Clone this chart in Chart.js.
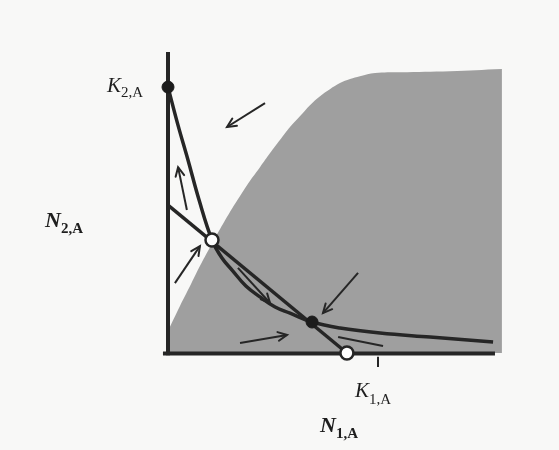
<!DOCTYPE html>
<html>
<head>
<meta charset="utf-8">
<script src="https://cdn.jsdelivr.net/npm/chart.js@4.4.1/dist/chart.umd.min.js"></script>
<style>
  html, body { margin: 0; padding: 0; background: #f8f8f7; }
  #wrap { width: 559px; height: 450px; }
</style>
</head>
<body>
<div id="wrap"><canvas id="phase"></canvas></div>
<script>
// carrying capacities (axis units)
const K1 = 100;
const K2 = 100;

// edge of the shaded region (N1 -> N2)
const shadeN1 = [0, 5.7, 10.5, 15.2, 20.0, 24.8, 29.5, 34.3, 39.0, 43.8, 48.6, 53.3, 58.1, 62.9,
                 67.6, 72.4, 77.1, 81.9, 86.7, 91.4, 98.6, 110.5, 134.3, 159.0];
const shadeN2 = [8.3, 17.7, 25.2, 32.7, 39.8, 46.6, 53.0, 59.0, 64.7, 69.9, 75.2, 80.1, 85.0, 89.1,
                 93.2, 96.6, 99.2, 101.5, 103.0, 104.1, 105.3, 105.6, 106.0, 106.8];

// curved isocline, starting at K2
const curveN1 = [0, 4.76, 9.52, 14.8, 20.95, 25.7, 30.5, 37.1, 43.8, 51.0, 58.1, 68.6, 81.9, 101, 124.8, 154.8];
const curveN2 = [100, 85.7, 72.6, 57.5, 42.5, 35.7, 31.2, 25.2, 21.1, 17.3, 15.0, 11.65, 9.4, 7.5, 6.0, 4.1];

// straight isocline
const lineN1 = [0, 85.2];
const lineN2 = [55.6, 0];

// equilibria
const stableN1 = [0, 68.6];
const stableN2 = [100, 11.65];
const unstableN1 = [20.95, 85.2];
const unstableN2 = [42.5, 0];

// trajectory arrows: [fromN1, fromN2, toN1, toN2]
const arrows = [
  [46.2, 94.0, 28.1, 85.0],
  [9.0, 53.8, 4.8, 69.9],
  [3.3, 26.3, 15.2, 40.2],
  [33.3, 32.0, 48.6, 18.8],
  [90.5, 30.1, 73.8, 15.0],
  [34.3, 3.8, 56.7, 6.8]
];
const plainStrokes = [
  [102.4, 2.6, 81.0, 6.0]
];

const ink = '#262626';

function pairs(xs, ys) {
  return xs.map((x, i) => ({ x: x, y: ys[i] }));
}

const datasets = [];

datasets.push({
  data: pairs(shadeN1, shadeN2),
  showLine: true,
  fill: 'origin',
  backgroundColor: '#9f9f9f',
  borderWidth: 0,
  pointRadius: 0,
  tension: 0.4,
  clip: false,
  order: 20
});

// axes
datasets.push({
  data: [{ x: 0, y: -0.8 }, { x: 0, y: 113.2 }],
  showLine: true, borderColor: ink, borderWidth: 4, pointRadius: 0, clip: false, order: 10
});
datasets.push({
  data: [{ x: -2.4, y: -0.2 }, { x: 155.7, y: -0.2 }],
  showLine: true, borderColor: ink, borderWidth: 4, pointRadius: 0, clip: false, order: 10
});
// tick at K1
datasets.push({
  data: [{ x: K1, y: -1.4 }, { x: K1, y: -5.3 }],
  showLine: true, borderColor: ink, borderWidth: 2, pointRadius: 0, clip: false, order: 10
});

datasets.push({
  data: pairs(lineN1, lineN2),
  showLine: true, borderColor: ink, borderWidth: 3.5, pointRadius: 0, clip: false, order: 8
});
datasets.push({
  data: pairs(curveN1, curveN2),
  showLine: true, borderColor: ink, borderWidth: 3.5, pointRadius: 0,
  tension: 0.4, clip: false, order: 8
});

arrows.forEach(a => {
  datasets.push({
    data: [{ x: a[0], y: a[1] }, { x: a[2], y: a[3] }],
    showLine: true, borderColor: ink, borderWidth: 2, pointRadius: 0, clip: false, order: 6,
    arrowHead: true
  });
});
plainStrokes.forEach(a => {
  datasets.push({
    data: [{ x: a[0], y: a[1] }, { x: a[2], y: a[3] }],
    showLine: true, borderColor: ink, borderWidth: 2, pointRadius: 0, clip: false, order: 6
  });
});

datasets.push({
  data: pairs(stableN1, stableN2),
  showLine: false, pointRadius: 6, pointBackgroundColor: '#1c1c1c', pointBorderColor: '#1c1c1c',
  pointBorderWidth: 1, clip: false, order: 2
});
datasets.push({
  data: pairs(unstableN1, unstableN2),
  showLine: false, pointRadius: 6.5, pointBackgroundColor: '#ffffff', pointBorderColor: ink,
  pointBorderWidth: 2.5, clip: false, order: 2
});

// V-shaped heads at the end of each arrow dataset
const arrowHeads = {
  id: 'arrowHeads',
  afterDatasetsDraw(chart) {
    const ctx = chart.ctx;
    chart.data.datasets.forEach((ds, i) => {
      if (!ds.arrowHead) return;
      const pts = chart.getDatasetMeta(i).data;
      const a = pts[0], b = pts[1];
      const ang = Math.atan2(b.y - a.y, b.x - a.x);
      const len = 10, spread = 0.45;
      ctx.save();
      ctx.strokeStyle = ds.borderColor;
      ctx.lineWidth = ds.borderWidth;
      ctx.lineCap = 'round';
      ctx.beginPath();
      ctx.moveTo(b.x - len * Math.cos(ang - spread), b.y - len * Math.sin(ang - spread));
      ctx.lineTo(b.x, b.y);
      ctx.lineTo(b.x - len * Math.cos(ang + spread), b.y - len * Math.sin(ang + spread));
      ctx.stroke();
      ctx.restore();
    });
  }
};

function subText(ctx, x, y, main, sub, mainFont, subFont, drop) {
  ctx.font = mainFont;
  ctx.fillText(main, x, y);
  const w = ctx.measureText(main).width;
  ctx.font = subFont;
  ctx.fillText(sub, x + w, y + drop);
}

// axis names and capacity labels
const axisLabels = {
  id: 'axisLabels',
  afterDraw(chart) {
    const ctx = chart.ctx;
    const sx = chart.scales.x, sy = chart.scales.y;
    const x0 = sx.getPixelForValue(0), y0 = sy.getPixelForValue(0);
    ctx.save();
    ctx.fillStyle = '#1e1e1e';
    ctx.textBaseline = 'alphabetic';
    subText(ctx, x0 - 61, sy.getPixelForValue(K2) + 5, 'K', '2,A',
      'italic 21px "Liberation Serif", serif', '15px "Liberation Serif", serif', 5);
    subText(ctx, sx.getPixelForValue(K1) - 23, y0 + 44, 'K', '1,A',
      'italic 21px "Liberation Serif", serif', '15px "Liberation Serif", serif', 7);
    subText(ctx, x0 - 123, y0 - 126, 'N', '2,A',
      'bold italic 22px "Liberation Serif", serif', 'bold 15px "Liberation Serif", serif', 6);
    subText(ctx, sx.getPixelForValue(K1) - 58, y0 + 79, 'N', '1,A',
      'bold italic 22px "Liberation Serif", serif', 'bold 15px "Liberation Serif", serif', 6);
    ctx.restore();
  }
};

new Chart(document.getElementById('phase'), {
  type: 'scatter',
  data: { datasets: datasets },
  options: {
    responsive: true,
    maintainAspectRatio: false,
    animation: false,
    events: [],
    layout: { padding: { left: 168, right: 55, top: 52, bottom: 97 } },
    plugins: {
      legend: { display: false },
      tooltip: { enabled: false }
    },
    scales: {
      x: { type: 'linear', display: false, min: 0, max: 160 },
      y: { type: 'linear', display: false, min: 0, max: 113.2 }
    }
  },
  plugins: [arrowHeads, axisLabels]
});
</script>
</body>
</html>
